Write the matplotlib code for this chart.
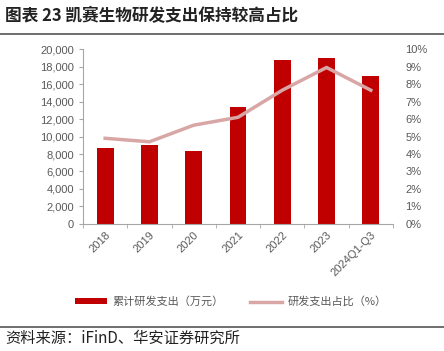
import numpy as np
import matplotlib
matplotlib.use('Agg')
import matplotlib.pyplot as plt
from matplotlib.ticker import FuncFormatter

plt.rcParams['font.family'] = ['Noto Sans CJK SC', 'DejaVu Sans']

years = ['2018', '2019', '2020', '2021', '2022', '2023', '2024Q1-Q3']
rd_spend = [8650, 9000, 8350, 13350, 18750, 18950, 16900]
rd_ratio = [4.9, 4.7, 5.65, 6.1, 7.65, 8.95, 7.65]

bar_color = '#C00000'
line_color = '#D9A6A6'
grey = '#595959'
tick_font = ['Liberation Sans', 'DejaVu Sans']

fig = plt.figure(figsize=(4.44, 3.51), dpi=100)
ax = fig.add_axes([0.187, 0.362, 0.698, 0.498])
x = np.arange(len(years))
ax.bar(x, rd_spend, width=0.38, color=bar_color, label='累计研发支出（万元）', zorder=2)
ax.set_ylim(0, 20000)
ax.set_yticks(np.arange(0, 20001, 2000))
ax.yaxis.set_major_formatter(FuncFormatter(lambda v, p: f'{int(v):,}'))
ax.set_xlim(-0.5, len(years) - 0.5)
ax.set_xticks(x)
ax.set_xticklabels(years, rotation=45, ha='right', rotation_mode='anchor')
ax.set_xticks(np.arange(-0.5, len(years), 1), minor=True)
ax.tick_params(axis='x', which='major', length=0, labelsize=8, colors=grey, pad=4)
ax.tick_params(axis='x', which='minor', length=3, color='#A6A6A6')
ax.tick_params(axis='y', labelsize=8, colors=grey, length=3, color='#A6A6A6')
for lab in ax.get_xticklabels() + ax.get_yticklabels():
    lab.set_family(tick_font)
for s in ['top', 'right']:
    ax.spines[s].set_visible(False)
for s in ['left', 'bottom']:
    ax.spines[s].set_color('#A6A6A6')

ax2 = ax.twinx()
ax2.plot(x, rd_ratio, color=line_color, linewidth=2.5, label='研发支出占比（%）', zorder=3)
ax2.set_ylim(0, 10)
ax2.set_yticks(np.arange(0, 11, 1))
ax2.yaxis.set_major_formatter(FuncFormatter(lambda v, p: f'{int(v)}%'))
ax2.tick_params(axis='y', labelsize=8, colors=grey, length=0, pad=9)
for lab in ax2.get_yticklabels():
    lab.set_family(tick_font)
for s in ['top', 'right', 'left', 'bottom']:
    ax2.spines[s].set_visible(False)

h1, l1 = ax.get_legend_handles_labels()
h2, l2 = ax2.get_legend_handles_labels()
fig.legend(h1 + h2, l1 + l2, loc='center', bbox_to_anchor=(0.52, 0.14), ncol=2,
           frameon=False, fontsize=8, labelcolor=grey, handlelength=2.9,
           columnspacing=2.4, handleheight=0.5, handletextpad=0.5)

fig.text(0.012, 0.955, '图表 23 凯赛生物研发支出保持较高占比', fontsize=12,
         fontweight='bold', color='#222222', va='center')
fig.add_artist(plt.Line2D([0.0, 1.0], [0.903, 0.903], color='#555555', linewidth=1.2))
fig.add_artist(plt.Line2D([0.0, 1.0], [0.068, 0.068], color='#555555', linewidth=1.2))
fig.text(0.012, 0.035, '资料来源：iFinD、华安证券研究所', fontsize=11, color='#222222', va='center')

fig.savefig('out.png', dpi=100)
